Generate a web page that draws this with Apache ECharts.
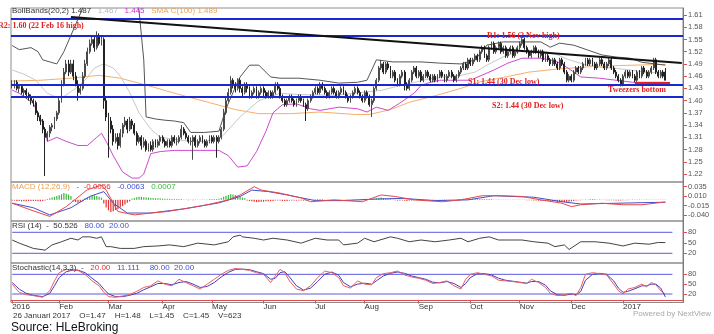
<!DOCTYPE html>
<html><head><meta charset="utf-8">
<script src="https://cdn.jsdelivr.net/npm/echarts/dist/echarts.min.js"></script>
<style>html,body{margin:0;padding:0;background:#fff;overflow:hidden}#c{width:714px;height:334px}</style>
</head><body><div id="c"></div>
<script>
// ---------- DATA ----------
const opens = [
1.44,1.44,1.445,1.43,1.435,1.42,1.425,1.415,1.41,1.40,
1.395,1.37,1.36,1.35,1.33,1.31,1.32,1.335,1.34,1.355,
1.37,1.40,1.44,1.47,1.49,1.47,1.49,1.46,1.44,1.42,
1.43,1.46,1.49,1.52,1.54,1.55,1.53,1.56,1.54,1.55,
1.40,1.36,1.35,1.33,1.30,1.31,1.29,1.32,1.34,1.35,
1.33,1.35,1.34,1.32,1.30,1.31,1.29,1.30,1.28,1.29,
1.28,1.30,1.29,1.30,1.31,1.30,1.29,1.30,1.29,1.31,
1.30,1.30,1.31,1.33,1.32,1.31,1.30,1.30,1.31,1.29,
1.30,1.31,1.30,1.29,1.30,1.31,1.30,1.31,1.30,1.31,
1.33,1.37,1.40,1.42,1.45,1.44,1.43,1.45,1.43,1.42,
1.44,1.43,1.41,1.42,1.43,1.41,1.42,1.43,1.42,1.41,
1.42,1.41,1.42,1.44,1.43,1.41,1.40,1.39,1.40,1.41,
1.40,1.39,1.40,1.41,1.40,1.39,1.38,1.40,1.41,1.42,
1.43,1.42,1.44,1.43,1.42,1.41,1.42,1.43,1.42,1.41,
1.42,1.43,1.42,1.41,1.40,1.41,1.42,1.43,1.42,1.41,
1.40,1.42,1.41,1.39,1.40,1.43,1.45,1.48,1.49,1.47,
1.49,1.48,1.46,1.47,1.45,1.44,1.46,1.47,1.44,1.43,
1.45,1.47,1.48,1.46,1.47,1.45,1.46,1.47,1.46,1.45,
1.46,1.45,1.46,1.47,1.46,1.45,1.46,1.47,1.46,1.45,
1.46,1.47,1.48,1.49,1.48,1.50,1.49,1.50,1.51,1.50,
1.52,1.53,1.51,1.50,1.53,1.54,1.52,1.53,1.54,1.52,
1.53,1.51,1.52,1.53,1.51,1.52,1.53,1.54,1.55,1.53,
1.52,1.51,1.52,1.53,1.52,1.51,1.52,1.50,1.51,1.50,
1.49,1.50,1.49,1.48,1.50,1.49,1.47,1.45,1.46,1.45,
1.47,1.48,1.47,1.48,1.49,1.50,1.49,1.50,1.49,1.48,
1.49,1.50,1.49,1.48,1.49,1.50,1.48,1.47,1.46,1.45,
1.44,1.46,1.47,1.46,1.47,1.46,1.45,1.47,1.46,1.48,
1.47,1.46,1.47,1.48,1.50,1.47,1.46,1.47,1.47];
const highs = [
1.45,1.45,1.45,1.44,1.44,1.43,1.43,1.42,1.415,1.405,
1.40,1.375,1.365,1.355,1.335,1.325,1.34,1.345,1.36,1.375,
1.41,1.45,1.48,1.50,1.50,1.50,1.50,1.47,1.45,1.44,
1.47,1.50,1.53,1.55,1.56,1.56,1.57,1.565,1.56,1.555,
1.41,1.37,1.36,1.34,1.32,1.32,1.33,1.345,1.36,1.355,
1.36,1.355,1.345,1.325,1.315,1.315,1.31,1.305,1.295,1.30,
1.305,1.305,1.305,1.315,1.315,1.305,1.305,1.305,1.315,1.315,
1.31,1.315,1.34,1.335,1.325,1.315,1.31,1.315,1.315,1.305,
1.315,1.315,1.305,1.305,1.315,1.315,1.315,1.315,1.315,1.335,
1.38,1.41,1.43,1.46,1.455,1.445,1.455,1.455,1.435,1.445,
1.445,1.435,1.425,1.435,1.435,1.425,1.435,1.435,1.425,1.425,
1.425,1.425,1.445,1.445,1.435,1.415,1.405,1.405,1.415,1.415,
1.405,1.405,1.415,1.415,1.405,1.395,1.405,1.415,1.425,1.435,
1.435,1.445,1.445,1.435,1.425,1.425,1.435,1.435,1.425,1.425,
1.435,1.435,1.425,1.415,1.415,1.425,1.435,1.435,1.425,1.415,
1.425,1.425,1.415,1.405,1.435,1.455,1.485,1.50,1.495,1.495,
1.495,1.485,1.475,1.475,1.455,1.465,1.475,1.475,1.445,1.455,
1.475,1.485,1.485,1.475,1.475,1.465,1.475,1.475,1.465,1.465,
1.465,1.465,1.475,1.475,1.465,1.465,1.475,1.475,1.465,1.465,
1.475,1.485,1.495,1.495,1.505,1.505,1.505,1.515,1.515,1.525,
1.535,1.535,1.515,1.535,1.545,1.545,1.535,1.545,1.545,1.535,
1.535,1.525,1.535,1.535,1.525,1.535,1.545,1.56,1.555,1.535,
1.525,1.525,1.535,1.535,1.525,1.525,1.525,1.515,1.515,1.505,
1.505,1.505,1.495,1.505,1.505,1.495,1.475,1.465,1.465,1.475,
1.485,1.485,1.485,1.495,1.505,1.505,1.505,1.505,1.495,1.495,
1.505,1.505,1.495,1.495,1.505,1.505,1.485,1.475,1.465,1.455,
1.465,1.475,1.475,1.475,1.475,1.465,1.475,1.475,1.485,1.485,
1.475,1.475,1.485,1.505,1.505,1.475,1.475,1.475,1.48];
const lows = [
1.43,1.43,1.425,1.42,1.415,1.41,1.405,1.40,1.39,1.385,
1.365,1.35,1.34,1.32,1.215,1.30,1.31,1.325,1.33,1.35,
1.365,1.395,1.435,1.465,1.46,1.465,1.45,1.435,1.40,1.415,
1.425,1.455,1.485,1.515,1.535,1.52,1.525,1.535,1.535,1.38,
1.35,1.26,1.32,1.29,1.295,1.28,1.285,1.31,1.335,1.32,
1.325,1.33,1.315,1.29,1.295,1.28,1.285,1.275,1.275,1.275,
1.275,1.285,1.285,1.29,1.295,1.285,1.285,1.285,1.285,1.295,
1.29,1.295,1.305,1.315,1.305,1.295,1.29,1.255,1.285,1.285,
1.295,1.295,1.285,1.285,1.295,1.295,1.295,1.26,1.295,1.305,
1.325,1.365,1.395,1.415,1.43,1.42,1.425,1.42,1.41,1.415,
1.42,1.405,1.405,1.415,1.405,1.405,1.415,1.41,1.405,1.405,
1.405,1.405,1.415,1.425,1.405,1.395,1.385,1.385,1.395,1.395,
1.385,1.385,1.395,1.395,1.385,1.35,1.375,1.395,1.405,1.415,
1.415,1.415,1.425,1.415,1.405,1.405,1.415,1.415,1.405,1.405,
1.415,1.415,1.405,1.395,1.395,1.405,1.415,1.415,1.405,1.395,
1.395,1.405,1.385,1.36,1.395,1.425,1.445,1.475,1.465,1.465,
1.475,1.455,1.455,1.445,1.435,1.435,1.455,1.425,1.425,1.425,
1.445,1.465,1.455,1.455,1.445,1.445,1.455,1.455,1.445,1.445,
1.445,1.445,1.455,1.455,1.445,1.445,1.455,1.455,1.445,1.445,
1.455,1.465,1.475,1.475,1.475,1.485,1.485,1.495,1.495,1.495,
1.515,1.505,1.495,1.495,1.525,1.515,1.515,1.525,1.515,1.515,
1.505,1.505,1.515,1.505,1.505,1.515,1.525,1.535,1.525,1.515,
1.505,1.505,1.515,1.515,1.505,1.505,1.495,1.495,1.495,1.485,
1.485,1.485,1.475,1.475,1.485,1.465,1.445,1.445,1.445,1.445,
1.465,1.465,1.465,1.475,1.485,1.485,1.485,1.485,1.475,1.475,
1.485,1.485,1.475,1.475,1.485,1.475,1.465,1.455,1.445,1.435,
1.435,1.455,1.455,1.455,1.455,1.445,1.445,1.455,1.455,1.465,
1.455,1.455,1.465,1.475,1.465,1.455,1.455,1.455,1.45];
const closes = [
1.44,1.445,1.43,1.435,1.42,1.425,1.415,1.41,1.40,1.395,
1.37,1.36,1.35,1.33,1.31,1.32,1.335,1.34,1.355,1.37,
1.40,1.44,1.47,1.49,1.47,1.49,1.46,1.44,1.42,1.43,
1.46,1.49,1.52,1.54,1.55,1.53,1.56,1.54,1.55,1.40,
1.36,1.35,1.33,1.30,1.31,1.29,1.32,1.34,1.35,1.33,
1.35,1.34,1.32,1.30,1.31,1.29,1.30,1.28,1.29,1.28,
1.30,1.29,1.30,1.31,1.30,1.29,1.30,1.29,1.31,1.30,
1.30,1.31,1.33,1.32,1.31,1.30,1.30,1.31,1.29,1.30,
1.31,1.30,1.29,1.30,1.31,1.30,1.31,1.30,1.31,1.33,
1.37,1.40,1.42,1.45,1.44,1.43,1.45,1.43,1.42,1.44,
1.43,1.41,1.42,1.43,1.41,1.42,1.43,1.42,1.41,1.42,
1.41,1.42,1.44,1.43,1.41,1.40,1.39,1.40,1.41,1.40,
1.39,1.40,1.41,1.40,1.39,1.38,1.40,1.41,1.42,1.43,
1.42,1.44,1.43,1.42,1.41,1.42,1.43,1.42,1.41,1.42,
1.43,1.42,1.41,1.40,1.41,1.42,1.43,1.42,1.41,1.40,
1.42,1.41,1.39,1.40,1.43,1.45,1.48,1.49,1.47,1.49,
1.48,1.46,1.47,1.45,1.44,1.46,1.47,1.44,1.43,1.45,
1.47,1.48,1.46,1.47,1.45,1.46,1.47,1.46,1.45,1.46,
1.45,1.46,1.47,1.46,1.45,1.46,1.47,1.46,1.45,1.46,
1.47,1.48,1.49,1.48,1.50,1.49,1.50,1.51,1.50,1.52,
1.53,1.51,1.50,1.53,1.54,1.52,1.53,1.54,1.52,1.53,
1.51,1.52,1.53,1.51,1.52,1.53,1.54,1.55,1.53,1.52,
1.51,1.52,1.53,1.52,1.51,1.52,1.50,1.51,1.50,1.49,
1.50,1.49,1.48,1.50,1.49,1.47,1.45,1.46,1.45,1.47,
1.48,1.47,1.48,1.49,1.50,1.49,1.50,1.49,1.48,1.49,
1.50,1.49,1.48,1.49,1.50,1.48,1.47,1.46,1.45,1.44,
1.46,1.47,1.46,1.47,1.46,1.45,1.47,1.46,1.48,1.47,
1.46,1.47,1.48,1.50,1.47,1.46,1.47,1.46,1.45];

// indicator lines: [trading-day index, value]
const bollUpper = [[0,1.535],[3,1.525],[8,1.53],[11,1.52],[13,1.50],[16,1.495],[19,1.49],[22,1.52],[25,1.56],[28,1.60],[31,1.64],[35,1.68],[42,1.72],[48,1.72],[52,1.66],[54,1.62],[56,1.50],[57,1.36],[61,1.355],[65,1.352],[69,1.35],[73,1.346],[76,1.322],[82,1.322],[88,1.325],[91,1.38],[94,1.42],[97,1.458],[101,1.487],[105,1.487],[110,1.458],[114,1.455],[122,1.455],[131,1.45],[139,1.443],[147,1.445],[151,1.45],[155,1.50],[162,1.495],[174,1.495],[182,1.492],[191,1.49],[197,1.50],[202,1.536],[209,1.544],[225,1.544],[229,1.531],[233,1.541],[239,1.536],[245,1.524],[251,1.512],[257,1.507],[263,1.504],[268,1.494],[278,1.487]];
const bollMid = [[0,1.475],[5,1.465],[10,1.45],[15,1.418],[18,1.41],[22,1.41],[27,1.43],[31,1.45],[35,1.48],[39,1.49],[43,1.48],[46,1.46],[50,1.42],[54,1.37],[59,1.33],[63,1.31],[69,1.305],[76,1.30],[82,1.30],[89,1.31],[97,1.36],[105,1.40],[114,1.418],[122,1.415],[137,1.413],[157,1.425],[165,1.437],[179,1.455],[191,1.462],[197,1.47],[203,1.49],[210,1.51],[216,1.52],[225,1.523],[231,1.515],[237,1.50],[244,1.488],[250,1.482],[256,1.48],[263,1.475],[269,1.47],[278,1.467]];
const bollLower = [[0,1.426],[3,1.418],[9,1.393],[13,1.345],[15,1.30],[19,1.31],[23,1.30],[28,1.29],[32,1.29],[36,1.31],[38,1.32],[40,1.30],[43,1.265],[47,1.225],[51,1.21],[54,1.21],[56,1.22],[59,1.27],[63,1.275],[69,1.278],[80,1.278],[88,1.278],[92,1.265],[96,1.237],[100,1.24],[104,1.275],[108,1.325],[111,1.37],[115,1.39],[121,1.392],[127,1.38],[131,1.376],[139,1.384],[147,1.38],[151,1.372],[155,1.384],[160,1.376],[165,1.394],[171,1.418],[174,1.437],[178,1.445],[182,1.45],[195,1.45],[205,1.475],[211,1.492],[217,1.504],[225,1.504],[229,1.50],[233,1.493],[237,1.478],[242,1.458],[250,1.455],[257,1.45],[264,1.445],[278,1.445]];
const sma100 = [[0,1.448],[12,1.45],[25,1.455],[37,1.462],[46,1.455],[59,1.435],[71,1.415],[84,1.395],[95,1.378],[105,1.368],[118,1.368],[131,1.372],[146,1.366],[152,1.366],[161,1.378],[169,1.396],[180,1.412],[191,1.43],[199,1.446],[210,1.458],[220,1.47],[233,1.478],[246,1.483],[258,1.486],[271,1.488],[278,1.489]];
const macdLine = [[0,-0.009],[8,-0.027],[16,-0.044],[23,-0.018],[32,0.027],[38,0.039],[40,0.026],[45,-0.031],[52,-0.040],[59,-0.035],[66,-0.031],[75,-0.022],[83,-0.013],[92,0.0],[97,0.013],[103,0.035],[106,0.026],[114,0.018],[123,0.005],[127,-0.005],[137,0.0],[149,-0.005],[157,0.013],[163,0.009],[171,0.0],[183,-0.005],[191,0.0],[200,0.011],[208,0.011],[217,0.009],[225,0.0],[234,-0.009],[238,-0.018],[242,-0.013],[251,-0.009],[260,-0.013],[268,-0.013],[278,-0.0056]];
const macdSignal = [[0,-0.009],[9,-0.021],[16,-0.040],[25,-0.021],[33,0.009],[39,0.022],[43,-0.009],[49,-0.035],[59,-0.035],[73,-0.024],[88,-0.008],[97,0.009],[102,0.026],[109,0.022],[117,0.013],[129,-0.002],[140,-0.002],[154,0.002],[166,0.004],[180,-0.002],[194,0.0],[205,0.011],[222,0.007],[234,-0.005],[242,-0.011],[257,-0.009],[278,-0.0063]];
const macdHist = [
-0.002,-0.002,-0.003,-0.003,-0.004,-0.004,-0.004,-0.003,-0.003,-0.003,
-0.003,-0.004,-0.004,-0.003,-0.002,0.002,0.004,0.006,0.008,0.010,
0.012,0.015,0.018,0.016,0.014,0.010,-0.004,-0.006,-0.008,-0.006,
-0.004,0.004,0.006,0.008,0.010,0.012,0.010,0.008,0.006,-0.010,
-0.020,-0.028,-0.032,-0.030,-0.027,-0.024,-0.020,-0.016,-0.012,-0.008,
-0.004,0.003,0.005,0.007,0.008,0.008,0.007,0.006,0.006,0.005,
0.005,0.004,0.004,0.004,0.003,0.003,0.003,0.003,0.002,0.002,
0.002,0.002,0.002,0.001,0.001,-0.001,0.001,-0.001,0.001,0.001,
0.001,0.001,0.001,0.001,0.002,0.002,0.002,0.002,0.003,0.005,
0.008,0.011,0.013,0.015,0.014,0.012,0.010,0.008,0.006,0.004,
-0.002,-0.003,-0.004,-0.005,-0.006,-0.006,-0.005,-0.005,-0.004,-0.004,
-0.003,-0.003,-0.002,-0.002,-0.002,-0.003,-0.003,-0.003,-0.002,-0.002,
-0.002,-0.002,-0.002,-0.002,-0.002,-0.002,-0.001,0.001,0.001,0.002,
0.002,0.002,0.002,0.001,0.001,0.001,0.001,0.001,-0.001,-0.001,
-0.001,-0.001,-0.002,-0.002,-0.002,-0.002,-0.001,-0.001,-0.001,-0.001,
0.001,0.001,0.001,0.002,0.003,0.004,0.005,0.006,0.005,0.004,
0.003,0.002,0.001,-0.001,-0.002,-0.002,-0.002,-0.002,-0.003,-0.002,
-0.002,-0.001,-0.001,-0.001,-0.001,-0.001,-0.001,-0.001,-0.001,-0.001,
-0.001,-0.001,0.001,0.001,0.001,0.001,0.001,0.001,0.001,0.001,
0.002,0.002,0.003,0.003,0.003,0.003,0.003,0.002,0.002,0.002,
0.002,0.002,0.002,0.002,0.002,0.001,0.001,0.001,0.001,0.001,
0.001,0.001,0.001,0.001,0.001,0.001,0.001,0.001,0.001,-0.001,
-0.001,-0.001,-0.002,-0.002,-0.002,-0.003,-0.003,-0.003,-0.003,-0.004,
-0.004,-0.004,-0.005,-0.005,-0.005,-0.006,-0.006,-0.005,-0.004,-0.003,
-0.002,-0.001,-0.001,0.001,0.001,0.001,0.002,0.002,0.002,0.001,
0.001,0.001,0.001,-0.001,-0.001,-0.001,-0.001,-0.002,-0.002,-0.002,
-0.001,-0.001,-0.001,0.001,0.001,0.001,0.001,0.001,0.001,0.001,
0.001,0.001,0.001,0.001,0.001,0.001,0.001,0.001,0.0007];
const rsi14 = [[0,58],[3,49],[9,34],[14,29],[17,44],[21,53],[25,63],[28,58],[30,67],[33,67],[36,63],[38,67],[40,39],[42,39],[46,34],[52,34],[56,39],[62,41],[67,44],[73,39],[79,49],[86,44],[92,53],[94,67],[97,72],[98,67],[103,63],[107,58],[111,63],[117,58],[123,49],[129,63],[134,58],[139,58],[141,44],[147,49],[150,63],[154,53],[161,67],[164,63],[169,53],[174,58],[180,53],[186,58],[191,63],[194,53],[199,63],[203,67],[207,58],[211,58],[217,58],[222,53],[228,49],[231,39],[235,44],[237,31],[242,53],[248,53],[254,49],[260,41],[265,49],[271,46],[275,51],[278,50.5]];
const stochK = [[0,50],[3,25],[6,18],[9,15],[13,10],[16,30],[18,60],[20,85],[23,95],[26,93],[28,92],[31,80],[34,60],[37,45],[39,25],[41,12],[44,10],[47,14],[50,18],[53,28],[56,40],[59,45],[62,60],[65,50],[68,45],[71,65],[74,55],[77,45],[80,35],[83,50],[86,65],[89,80],[92,92],[95,98],[98,95],[101,92],[104,85],[107,80],[110,55],[112,75],[114,95],[116,85],[118,60],[121,35],[124,30],[127,45],[130,70],[133,90],[136,85],[139,70],[141,45],[144,38],[147,60],[150,50],[153,48],[155,70],[158,82],[161,85],[164,90],[167,78],[170,72],[173,68],[176,62],[179,52],[182,55],[185,60],[188,45],[191,35],[193,65],[195,80],[198,85],[201,80],[204,75],[207,62],[210,60],[213,58],[216,55],[219,52],[221,65],[224,55],[227,40],[229,22],[232,15],[235,18],[238,22],[240,15],[242,40],[244,80],[247,85],[250,82],[253,78],[256,50],[258,30],[260,20],[262,35],[265,40],[268,50],[270,42],[272,55],[274,48],[276,30],[278,20]];
const stochD = [[0,55],[3,35],[6,22],[9,16],[13,12],[16,22],[18,45],[20,70],[23,88],[26,93],[28,93],[31,85],[34,68],[37,52],[39,35],[41,20],[44,12],[47,12],[50,16],[53,22],[56,33],[59,42],[62,52],[65,52],[68,48],[71,55],[74,58],[77,50],[80,40],[83,43],[86,55],[89,72],[92,86],[95,95],[98,96],[101,94],[104,88],[107,82],[110,65],[112,68],[114,85],[116,88],[118,72],[121,45],[124,32],[127,38],[130,58],[133,80],[136,87],[139,77],[141,55],[144,42],[147,50],[150,53],[153,50],[155,60],[158,75],[161,83],[164,87],[167,83],[170,75],[173,70],[176,65],[179,56],[182,54],[185,58],[188,52],[191,40],[193,52],[195,70],[198,82],[201,82],[204,78],[207,68],[210,62],[213,59],[216,56],[219,53],[221,58],[224,58],[227,47],[229,30],[232,18],[235,16],[238,20],[240,18],[242,28],[244,62],[247,80],[250,83],[253,80],[256,60],[258,38],[260,25],[262,28],[265,36],[268,45],[270,45],[272,50],[274,50],[276,38],[278,11]];
const levels = [1.601, 1.556, 1.437, 1.407];
const trendLine = [[25, 1.605], [285, 1.492]];
const tweezers = [[265, 1.443], [280, 1.443]];
const oscBands = [80, 20];
const mainTicks = [1.22,1.25,1.28,1.31,1.34,1.37,1.40,1.43,1.46,1.49,1.52,1.55,1.58,1.61];
const macdTicks = [0.035, 0.010, -0.015, -0.040];
const oscTicks = [80, 50, 20];
const monthNames = ['Jan','Feb','Mar','Apr','May','Jun','Jul','Aug','Sep','Oct','Nov','Dec'];

// ---------- categories: trading days ----------
const NCAT = 286;
const dates = [];
const d = new Date(Date.UTC(2016, 0, 4));
while (dates.length < NCAT) {
  const wd = d.getUTCDay();
  if (wd !== 0 && wd !== 6) dates.push(d.toISOString().slice(0, 10));
  d.setUTCDate(d.getUTCDate() + 1);
}
const lastIdx = closes.length - 1;
const monthStart = new Set();
dates.forEach((s, i) => { if (i <= lastIdx && (i === 0 || s.slice(5, 7) !== dates[i - 1].slice(5, 7))) monthStart.add(i); });
const isLabel = (i) => monthStart.has(i);
const fmtLabel = (v) => { const m = +v.slice(5, 7); return m === 1 ? v.slice(0, 4) : monthNames[m - 1]; };

const candles = closes.map((c, i) => [opens[i], c, lows[i], highs[i]]);
const RED = '#e05050';
const SANS = '"Liberation Sans", Arial, sans-serif';
const SERIF = '"Liberation Serif", "Times New Roman", serif';

function xAx(g, show) {
  return {
    type: 'category', gridIndex: g, data: dates, boundaryGap: true,
    axisLine: { show: show, lineStyle: { color: RED } },
    axisTick: { show: show, interval: isLabel, alignWithLabel: true, length: 3, lineStyle: { color: RED } },
    axisLabel: { show: show, interval: isLabel, formatter: fmtLabel, align: 'left', fontSize: 8, color: '#333', margin: 0, fontFamily: SANS },
    splitLine: { show: false }
  };
}
function yAx(g, min, max, ticks, fmt) {
  return {
    type: 'value', gridIndex: g, position: 'right', min: min, max: max, scale: true,
    splitLine: { show: false },
    axisLine: { show: true, lineStyle: { color: RED } },
    axisTick: { show: true, customValues: ticks, length: 4, lineStyle: { color: RED } },
    axisLabel: { customValues: ticks, formatter: fmt, fontSize: 7.5, color: '#555', margin: 5, fontFamily: SANS }
  };
}
const lineS = (x, y, data, color, width, z) => ({
  type: 'line', xAxisIndex: x, yAxisIndex: y, data: data, showSymbol: false, symbol: 'none',
  lineStyle: { color: color, width: width || 1 }, silent: true, z: z || 2, clip: true
});

const grids = [
  { left: 11, right: 31, top: 8, height: 174 },
  { left: 11, right: 31, top: 182, height: 39 },
  { left: 11, right: 31, top: 221, height: 42 },
  { left: 11, right: 31, top: 263, height: 39.5 }
].map(g => Object.assign(g, { show: true, borderColor: '#8c8c8c', borderWidth: 1, containLabel: false }));

const T = (x, y, rich, text, extra) => Object.assign({
  type: 'text', x: x, y: y, silent: true, z: 100,
  style: { text: text, rich: rich, verticalAlign: 'middle', align: 'left' }
}, extra || {});
const rp = (color, font) => ({ fill: color, font: font || ('8px ' + SANS) });
const serifRed = 'bold 8px ' + SERIF;

const chart = echarts.init(document.getElementById('c'), null, { renderer: 'canvas' });
chart.setOption({
  animation: false,
  backgroundColor: '#fff',
  grid: grids,
  xAxis: [xAx(0, false), xAx(1, false), xAx(2, false), xAx(3, true)],
  yAxis: [
    yAx(0, 1.2004, 1.6272, mainTicks, v => v.toFixed(2)),
    yAx(1, -0.0562, 0.0475, macdTicks, v => v.toFixed(3)),
    yAx(2, -7.7, 112.3, oscTicks, v => String(Math.round(v))),
    yAx(3, -5.9, 114.5, oscTicks, v => String(Math.round(v)))
  ],
  series: [
    lineS(0, 0, sma100, '#f4b06a', 1),
    lineS(0, 0, bollMid, '#c8c8c8', 1),
    lineS(0, 0, bollLower, '#d048d0', 1),
    lineS(0, 0, bollUpper, '#555555', 1),
    {
      type: 'candlestick', xAxisIndex: 0, yAxisIndex: 0, data: candles, barWidth: 1.4, silent: true,
      itemStyle: { color: '#ffffff', color0: '#222222', borderColor: '#4a4a4a', borderColor0: '#222222', borderWidth: 1 },
      markLine: {
        silent: true, symbol: 'none', z: 10, label: { show: false },
        lineStyle: { color: '#1a28d0', width: 2, type: 'solid' },
        data: levels.map(v => ({ yAxis: v }))
      }
    },
    lineS(0, 0, trendLine, '#111111', 2, 11),
    lineS(0, 0, tweezers, '#e02020', 2, 11),
    {
      type: 'bar', xAxisIndex: 1, yAxisIndex: 1, barWidth: 1.2, silent: true,
      data: macdHist.map(v => ({ value: v, itemStyle: { color: v >= 0 ? '#3cb43c' : '#e03030' } }))
    },
    lineS(1, 1, macdSignal, '#4050d0', 1),
    lineS(1, 1, macdLine, '#e84848', 1),
    lineS(2, 2, [[0, oscBands[0]], [281, oscBands[0]]], '#5a5ae0', 1),
    lineS(2, 2, [[0, oscBands[1]], [281, oscBands[1]]], '#5a5ae0', 1),
    lineS(2, 2, rsi14, '#444444', 1),
    lineS(3, 3, [[0, oscBands[0]], [281, oscBands[0]]], '#5a5ae0', 1),
    lineS(3, 3, [[0, oscBands[1]], [281, oscBands[1]]], '#5a5ae0', 1),
    lineS(3, 3, stochD, '#4a3cc0', 1),
    lineS(3, 3, stochK, '#e86060', 1)
  ],
  graphic: [
    T(12, 11, { k: rp('#333'), g: rp('#b8b8b8'), m: rp('#cc33cc'), o: rp('#f0a050') },
      '{k|BollBands(20,2) 1.487}  {g|1.467}  {m|1.445}  {o|SMA C(100) 1.489}'),
    T(-2, 26, { r: rp('#e02020', serifRed) }, '{r|R2: 1.60 (22 Feb 16 high)}'),
    T(487, 36, { r: rp('#e02020', serifRed) }, '{r|R1: 1.56 (2 Nov high)}'),
    T(468, 82, { r: rp('#e02020', serifRed) }, '{r|S1: 1.44 (30 Dec low)}'),
    T(492, 106, { r: rp('#e02020', serifRed) }, '{r|S2: 1.44 (30 Dec low)}'),
    T(608, 90, { r: rp('#e02020', serifRed) }, '{r|Tweezers bottom}'),
    T(12, 187, { o: rp('#f0a050'), r: rp('#e03030'), b: rp('#4050d0'), g: rp('#3cb43c') },
      '{o|MACD (12,26,9)}  {r|-  -0.0056}  {b|-0.0063}  {g|0.0007}'),
    T(12, 226, { k: rp('#333'), b: rp('#4050d0') }, '{k|RSI (14)  -  50.526}  {b|80.00  20.00}'),
    T(12, 268, { k: rp('#333'), r: rp('#e03030'), b: rp('#4050d0') },
      '{k|Stochastic(14,3,3)  -}  {r|20.00}  {b|11.111}   {b|80.00  20.00}'),
    T(13, 316, { k: rp('#333') }, '{k|26 Januari 2017    O=1.47    H=1.48    L=1.45    C=1.45    V=623}'),
    T(633, 313.5, { k: rp('#a8a8a8') }, '{k|Powered by NextView}'),
    T(11, 327.5, { k: rp('#111', '12px ' + SANS) }, '{k|Source: HLeBroking}')
  ]
});
</script>
</body></html>
